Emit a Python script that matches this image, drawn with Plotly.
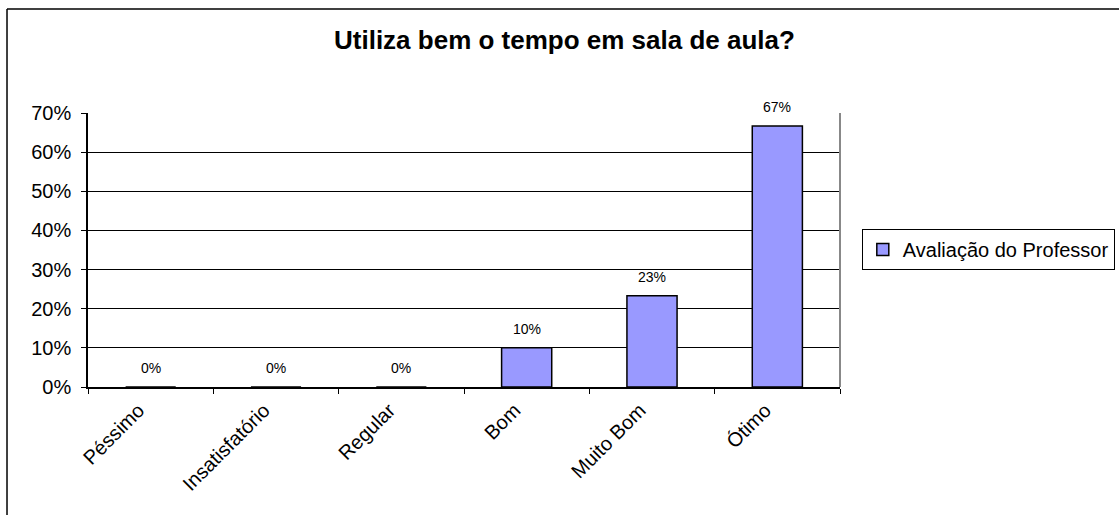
import plotly.graph_objects as go

categories = ["Péssimo", "Insatisfatório", "Regular", "Bom", "Muito Bom", "Ótimo"]
values = [0.0, 0.0, 0.0, 0.10, 0.2333, 0.6667]
series_name = "Avaliação do Professor"
title_text = "Utiliza bem o tempo em sala de aula?"
y_ticks = [0, 0.1, 0.2, 0.3, 0.4, 0.5, 0.6, 0.7]

FONT = "Liberation Sans, Arial, sans-serif"

fig = go.Figure()
fig.add_trace(go.Bar(
    x=categories, y=values, name=series_name,
    marker=dict(color="#9999FF", line=dict(color="black", width=1.5)),
    width=0.4,
))

for c, v in zip(categories, values):
    fig.add_annotation(x=c, y=v, xref="x", yref="y", text=f"{v:.0%}",
                       showarrow=False, yanchor="middle", yshift=19,
                       font=dict(family=FONT, size=14, color="black"))

fig.add_annotation(text=f"<b>{title_text}</b>", xref="paper", yref="paper",
                   x=0.633, y=1.266, xanchor="center", yanchor="middle",
                   showarrow=False, font=dict(family=FONT, size=26, color="black"))

# outer chart frame (top and left visible)
fig.add_shape(type="line", xref="paper", yref="paper", x0=-0.1077, x1=1.5,
              y0=1.3796, y1=1.3796, line=dict(color="black", width=1.5))
fig.add_shape(type="line", xref="paper", yref="paper", x0=-0.1077, x1=-0.1077,
              y0=1.3796, y1=-0.6, line=dict(color="black", width=1.5))
# plot area right border
fig.add_shape(type="line", xref="paper", yref="paper", x0=1, x1=1,
              y0=0, y1=1, line=dict(color="#888888", width=2))

fig.update_layout(
    width=1119, height=515,
    margin=dict(l=88, r=279, t=113, b=128, autoexpand=False),
    paper_bgcolor="white", plot_bgcolor="white",
    font=dict(family=FONT, color="black"),
    showlegend=True,
    legend=dict(x=1.029, y=0.502, xanchor="left", yanchor="middle",
                bordercolor="black", borderwidth=1, itemwidth=30,
                font=dict(family=FONT, size=20, color="black")),
    bargap=0.6,
)
fig.update_xaxes(
    type="category", tickangle=-45, tickson="boundaries", ticks="outside",
    ticklen=5, tickcolor="black", showline=True, linecolor="black", linewidth=1.5,
    showgrid=False, tickfont=dict(family=FONT, size=20, color="black"),
    ticklabelshift=-12, ticklabelstandoff=2,
)
fig.update_yaxes(
    range=[0, 0.7], tickvals=y_ticks, tickformat=".0%", ticks="outside",
    ticklen=5, tickcolor="black", showline=True, linecolor="black", linewidth=1.5,
    showgrid=True, gridcolor="black", gridwidth=1, zeroline=False,
    tickfont=dict(family=FONT, size=20, color="black"),
    ticklabelstandoff=6,
)

fig.write_html("out.html", config={"displayModeBar": False},
               post_script="document.body.style.margin='0';document.body.style.overflow='hidden';")
